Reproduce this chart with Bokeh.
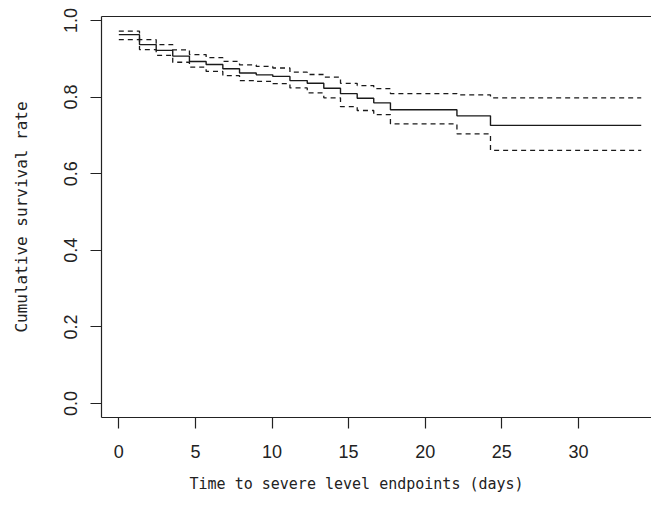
from bokeh.plotting import figure
from bokeh.models import Range1d, FixedTicker, LinearAxis, Title
from bokeh.embed import file_html
from bokeh.resources import INLINE

# Kaplan-Meier estimate
times = [0, 1.35, 2.44, 3.52, 4.61, 5.70, 6.79, 7.88, 8.97, 10.05, 11.17,
         12.3, 13.38, 14.47, 15.56, 16.64, 17.73, 22.07, 24.26]
end_time = 34.1
surv = [0.963, 0.937, 0.922, 0.907, 0.893, 0.885, 0.874, 0.863, 0.858, 0.854,
        0.843, 0.836, 0.823, 0.809, 0.797, 0.785, 0.767, 0.751, 0.726]
upper = [0.972, 0.950, 0.937, 0.923, 0.911, 0.903, 0.893, 0.884, 0.880, 0.876,
         0.865, 0.859, 0.852, 0.836, 0.830, 0.822, 0.809, 0.806, 0.798]
lower = [0.950, 0.924, 0.909, 0.891, 0.878, 0.867, 0.856, 0.843, 0.841, 0.835,
         0.824, 0.811, 0.798, 0.775, 0.765, 0.754, 0.730, 0.704, 0.661]

x_ticks = [0, 5, 10, 15, 20, 25, 30]
y_ticks = [0.0, 0.2, 0.4, 0.6, 0.8, 1.0]
y_tick_labels = ["0.0", "0.2", "0.4", "0.6", "0.8", "1.0"]
x_title = "Time to severe level endpoints (days)"
y_title = "Cumulative survival rate"

p = figure(width=651, height=505, output_backend="svg", toolbar_location=None,
           x_range=Range1d(-1.13, 34.77), y_range=Range1d(-0.0366, 1.0104),
           min_border_left=101, min_border_right=0, min_border_top=16,
           min_border_bottom=88)
p.background_fill_color = "white"
p.border_fill_color = "white"
p.outline_line_color = None
p.grid.visible = False

xs = times + [end_time]
for series, dash, w in [(surv, "solid", 1.4), (upper, "5 4", 1.3), (lower, "5 4", 1.3)]:
    ys = series + [series[-1]]
    p.step(xs, ys, mode="after", line_color="#1a1a1a", line_width=w, line_dash=dash)

tick_font = "Liberation Sans"
title_font = "DejaVu Sans Mono"

xa = p.xaxis[0]
xa.ticker = FixedTicker(ticks=x_ticks)
ya = p.yaxis[0]
ya.ticker = FixedTicker(ticks=y_ticks)
ya.major_label_overrides = {t: l for t, l in zip(y_ticks, y_tick_labels)}
ya.axis_label = y_title
ya.major_label_orientation = "vertical"

for ax, title_size in [(xa, "15px"), (ya, "16px")]:
    ax.axis_line_color = "#222222"
    ax.axis_line_width = 1.2
    ax.major_tick_line_color = "#222222"
    ax.major_tick_line_width = 1.2
    ax.major_tick_out = 11
    ax.major_tick_in = 0
    ax.minor_tick_line_color = None
    ax.major_label_text_font = tick_font
    ax.major_label_text_font_size = "18px"
    ax.major_label_text_color = "#222222"
    ax.axis_label_text_font = title_font
    ax.axis_label_text_font_size = title_size
    ax.axis_label_text_font_style = "normal"
    ax.axis_label_text_color = "#222222"

xa.major_label_standoff = 16
ya.major_label_standoff = 13
ya.axis_label_standoff = 31

# x-axis title, placed where the original plot region was centred
p.add_layout(Title(text=x_title, align="left", offset=88, standoff=25,
                   text_font=title_font, text_font_size="15px",
                   text_font_style="normal", text_color="#222222"), "below")

top = LinearAxis(major_tick_line_color=None, minor_tick_line_color=None,
                 major_label_text_font_size="0px", axis_line_color="#222222",
                 axis_line_width=1.2, ticker=FixedTicker(ticks=[]))
p.add_layout(top, "above")

open("out.html", "w").write(file_html(p, INLINE))
